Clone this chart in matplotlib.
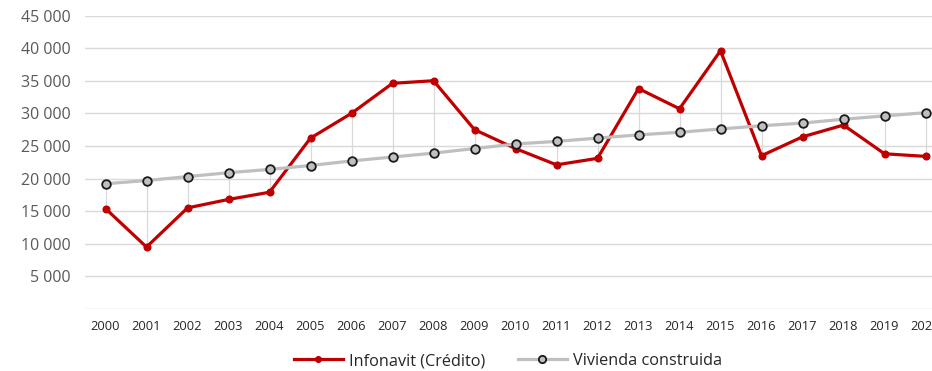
import matplotlib
matplotlib.use("Agg")
import matplotlib.pyplot as plt
from matplotlib.ticker import FuncFormatter
import numpy as np

# series
years = [str(y) for y in range(2000, 2021)]
infonavit = [15400, 9500, 15500, 16800, 17900, 26200, 30000, 34600, 35000, 27500,
             24600, 22100, 23100, 33800, 30700, 39600, 23500, 26400, 28200, 23800, 23400]
vivienda = [19200, 19700, 20300, 20900, 21400, 22000, 22700, 23300, 23900, 24600,
            25300, 25700, 26200, 26700, 27100, 27600, 28100, 28500, 29100, 29600, 30100]
yticks = [0, 5000, 10000, 15000, 20000, 25000, 30000, 35000, 40000, 45000]

plt.rcParams['font.family'] = ['Open Sans', 'DejaVu Sans']

W, H = 932, 371
fig = plt.figure(figsize=(W / 100, H / 100), dpi=100)
ax = fig.add_axes([85 / W, (H - 309) / H, (946 - 85) / W, (309 - 15.5) / H])

x = np.arange(len(years))
lo = np.minimum(infonavit, vivienda)
hi = np.maximum(infonavit, vivienda)
ax.vlines(x, lo, hi, color='#d9d9d9', lw=0.9, zorder=1)

ax.plot(x, infonavit, color='#c00000', lw=2.3, marker='o', ms=4.8,
        label='Infonavit (Crédito)', zorder=3)
ax.plot(x, vivienda, color='#bfbfbf', lw=2.3, marker='o', ms=6.2,
        markerfacecolor='#c0c0c0', markeredgecolor='#1a1a1a', markeredgewidth=1.3,
        label='Vivienda construida', zorder=4)

ax.set_xlim(-0.5, len(years) - 0.5)
ax.set_ylim(0, 45000)
ax.set_xticks(x)
ax.set_xticklabels(years)
ax.set_yticks(yticks)
ax.yaxis.set_major_formatter(FuncFormatter(
    lambda v, p: '' if v == 0 else f'{int(v):,}'.replace(',', ' ')))
ax.grid(axis='y', color='#d9d9d9', lw=1)
ax.set_axisbelow(True)
for s in ax.spines.values():
    s.set_visible(False)
ax.tick_params(axis='both', length=0)
ax.tick_params(axis='y', labelsize=11.5, labelcolor='#595959', pad=10)
ax.tick_params(axis='x', labelsize=9.3, labelcolor='#262626', pad=8)

fig.legend(loc='center', bbox_to_anchor=(508 / W, 1 - 361 / H), ncol=2,
           frameon=False, fontsize=11.7, handlelength=3.0, columnspacing=2.0,
           handletextpad=0.4, markerscale=0.85, labelcolor='#262626')

fig.savefig('out.png', dpi=100)
